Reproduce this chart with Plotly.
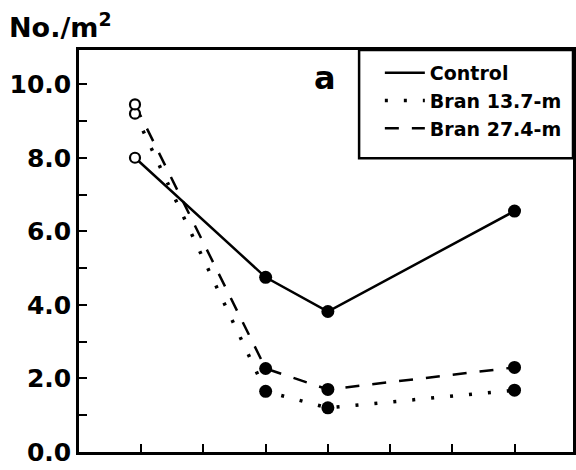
import plotly.graph_objects as go

# ---- data ----
series_names = ["Control", "Bran 13.7-m", "Bran 27.4-m"]
x_values = [0.9, 3, 4, 7]
y_control = [8.0, 4.75, 3.82, 6.55]
y_bran137 = [9.2, 1.65, 1.2, 1.68]
y_bran274 = [9.45, 2.27, 1.7, 2.3]
open_first = [True, False, False, False]
y_tick_vals = [0, 1, 2, 3, 4, 5, 6, 7, 8, 9, 10]
y_tick_text = ["0.0", "", "2.0", "", "4.0", "", "6.0", "", "8.0", "", "10.0"]
x_tick_vals = [1, 2, 3, 4, 5, 6, 7]
panel_label = "a"
y_title = "No./m<sup>2</sup>"

FONT = "DejaVu Sans"
styles = {
    "Control": dict(dash="solid", width=2.5),
    "Bran 13.7-m": dict(dash="3px,16px", width=3.5),
    "Bran 27.4-m": dict(dash="14px,13px", width=2.5),
}
series = {"Control": y_control, "Bran 13.7-m": y_bran137, "Bran 27.4-m": y_bran274}

fig = go.Figure()
for name in series_names:
    ys = series[name]
    fig.add_trace(go.Scatter(
        x=x_values, y=ys, mode="lines", name=name,
        line=dict(color="black", **styles[name]),
    ))
for name in series_names:
    ys = series[name]
    xo = [x for x, o in zip(x_values, open_first) if o]
    yo = [y for y, o in zip(ys, open_first) if o]
    xf = [x for x, o in zip(x_values, open_first) if not o]
    yf = [y for y, o in zip(ys, open_first) if not o]
    fig.add_trace(go.Scatter(
        x=xo, y=yo, mode="markers", showlegend=False,
        marker=dict(symbol="circle", size=10, color="white",
                    line=dict(color="black", width=2.2)),
    ))
    fig.add_trace(go.Scatter(
        x=xf, y=yf, mode="markers", showlegend=False,
        marker=dict(symbol="circle", size=13, color="black",
                    line=dict(width=0)),
    ))

fig.update_layout(
    width=576, height=470,
    margin=dict(l=79, r=3, t=50, b=18, autoexpand=False),
    paper_bgcolor="white", plot_bgcolor="white",
    font=dict(family=FONT, color="black", size=18, weight="bold"),
    showlegend=True,
    legend=dict(
        x=0.609, y=0.99, xanchor="left", yanchor="top",
        bgcolor="rgba(0,0,0,0)", borderwidth=0,
        font=dict(family=FONT, size=19, color="black", weight="bold"),
        tracegroupgap=0, itemwidth=40,
    ),
    xaxis=dict(
        range=[0, 7.94], showgrid=False, zeroline=False, automargin=False,
        tickvals=x_tick_vals, ticktext=[""] * len(x_tick_vals),
        ticks="inside", ticklen=8, tickwidth=2, tickcolor="black",
        showline=True, linecolor="black", linewidth=2.5, mirror=True,
    ),
    yaxis=dict(
        range=[0, 10.93], showgrid=False, zeroline=False, automargin=False,
        tickvals=y_tick_vals, ticktext=y_tick_text,
        ticks="inside", ticklen=8, tickwidth=2, tickcolor="black",
        tickfont=dict(family=FONT, size=25, color="black", weight="bold"),
        showline=True, linecolor="black", linewidth=2.5, mirror=True,
    ),
    shapes=[dict(
        type="rect", xref="paper", yref="paper",
        x0=0.567, x1=1.0, y0=0.731, y1=1.0,
        line=dict(color="black", width=2.5), fillcolor="rgba(0,0,0,0)",
    )],
    annotations=[
        dict(text=y_title, xref="paper", yref="paper", x=-0.145, y=1.0,
             xanchor="left", yanchor="bottom", yshift=5, showarrow=False,
             font=dict(family=FONT, size=27, color="black", weight="bold")),
        dict(text=panel_label, xref="paper", yref="paper", x=0.525, y=0.93,
             xanchor="right", yanchor="middle", showarrow=False,
             font=dict(family=FONT, size=32, color="black", weight="bold")),
    ],
)

fig.write_html(
    "out.html",
    config={"displayModeBar": False},
    post_script="document.body.style.margin='0';document.body.style.padding='0';",
)
